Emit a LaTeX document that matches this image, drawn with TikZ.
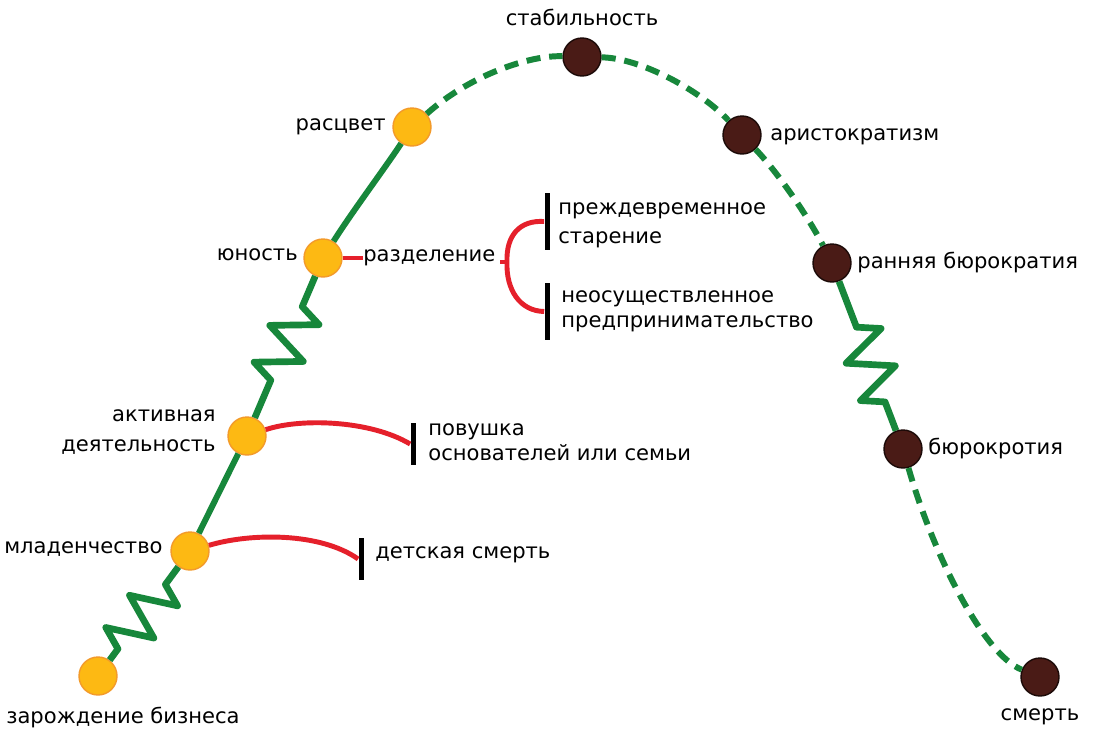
\documentclass[tikz,border=0pt]{standalone}
\usepackage{fontspec}
\setmainfont{DejaVu Sans}
\usetikzlibrary{decorations.pathmorphing}
\definecolor{grn}{HTML}{17873B}
\definecolor{rd}{HTML}{E5202B}
\definecolor{org}{HTML}{FDB913}
\definecolor{orgb}{HTML}{F39A2A}
\definecolor{brn}{HTML}{4A1B16}
\definecolor{brnb}{HTML}{1C0A08}
\begin{document}
\begin{tikzpicture}[x=0.02cm,y=-0.02cm,
 young/.style={circle,fill=org,draw=orgb,line width=0.8pt,minimum size=0.76cm,inner sep=0},
 old/.style={circle,fill=brn,draw=brnb,line width=0.8pt,minimum size=0.76cm,inner sep=0},
 lbl/.style={font=\fontsize{12}{14}\selectfont,inner sep=0},
 gl/.style={draw=grn,line width=3.4pt},
 gd/.style={gl,dash pattern=on 8pt off 5pt},
 rl/.style={draw=rd,line width=2.8pt},
 bar/.style={rectangle,fill=black,inner sep=0,minimum width=0.1cm,minimum height=#1},
 spring/.style={gl,line width=3.8pt,line join=round,decorate,decoration={zigzag,amplitude=0.45cm,segment length=0.8cm,#1}}
]
\useasboundingbox[fill=white] (0,0) rectangle (1098,737);

% stage nodes
\node[young] (zar) at (98,676) {};
\node[young] (mla) at (190,551) {};
\node[young] (akt) at (247,436) {};
\node[young] (yun) at (323,258) {};
\node[young] (ras) at (412,127) {};
\node[old] (sta) at (582,57) {};
\node[old] (ari) at (742,135) {};
\node[old] (rbu) at (832,263) {};
\node[old] (bur) at (903,449) {};
\node[old] (sme) at (1040,677) {};

% main curve
\draw[spring={pre length=0.28cm,post length=0.4cm}] (zar) -- (mla);
\draw[gl] (mla) -- (akt);
\draw[spring={pre length=0.82cm,post length=0.54cm}] (akt) -- (yun);
\draw[gl] (yun) .. controls (352,212) and (385,168) .. (ras);
\draw[gd] (ras) .. controls (470,75) and (530,55) .. (sta);
\draw[gd] (sta) .. controls (640,58) and (700,90) .. (ari);
\draw[gd] (ari) .. controls (780,175) and (810,220) .. (rbu);
\draw[spring={pre length=0.98cm,post length=0.6cm}] (rbu) -- (bur);
\draw[gd] (bur) .. controls (935,560) and (985,655) .. (sme);

% labels
\node[lbl] at (582,17) {стабильность};
\node[lbl,anchor=east] at (386,127) {расцвет};
\node[lbl,anchor=west] at (770,137) {аристократизм};
\node[lbl,anchor=east] at (298,255) {юность};
\node[lbl,anchor=west] (razd) at (363,258) {разделение};
\node[lbl,anchor=west] at (857,262) {ранняя бюрократия};
\node[lbl,anchor=east,align=right,font=\fontsize{12}{17}\selectfont] at (216,432) {активная\\деятельность};
\node[lbl,anchor=west] at (928,448) {бюрокротия};
\node[lbl,anchor=west] at (4,549) {младенчество};
\node[lbl,anchor=west] at (6,717) {зарождение бизнеса};
\node[lbl] at (1040,717) {смерть};

% bars
\node[bar=1.14cm] (b1) at (547,221.5) {};
\node[bar=1.14cm] (b2) at (547,311.5) {};
\node[bar=0.84cm] (b3) at (413,444) {};
\node[bar=0.84cm] (b4) at (361,559) {};

\node[lbl,anchor=west,align=left,font=\fontsize{12}{16.5}\selectfont] at (558,225) {преждевременное\\старение};
\node[lbl,anchor=west,align=left] at (561,311) {неосуществленное\\предпринимательство};
\node[lbl,anchor=west,align=left] at (428,442) {повушка\\основателей или семьи};
\node[lbl,anchor=west] at (375,555) {детская смерть};

% red connectors
\draw[rl] (yun) -- (razd.west);
\coordinate (tick) at (500,262);
\coordinate (split) at (507,262);
\draw[rl] (tick) -- (split);
\draw[rl] (split) .. controls (506,235) and (520,220) .. (b1.west);
\draw[rl] (split) .. controls (506,290) and (520,311) .. (b2.west);
\draw[rl] (akt) .. controls (300,418) and (370,420) .. (b3.west);
\draw[rl] (mla) .. controls (250,533) and (320,532) .. (b4.west);
\end{tikzpicture}
\end{document}
